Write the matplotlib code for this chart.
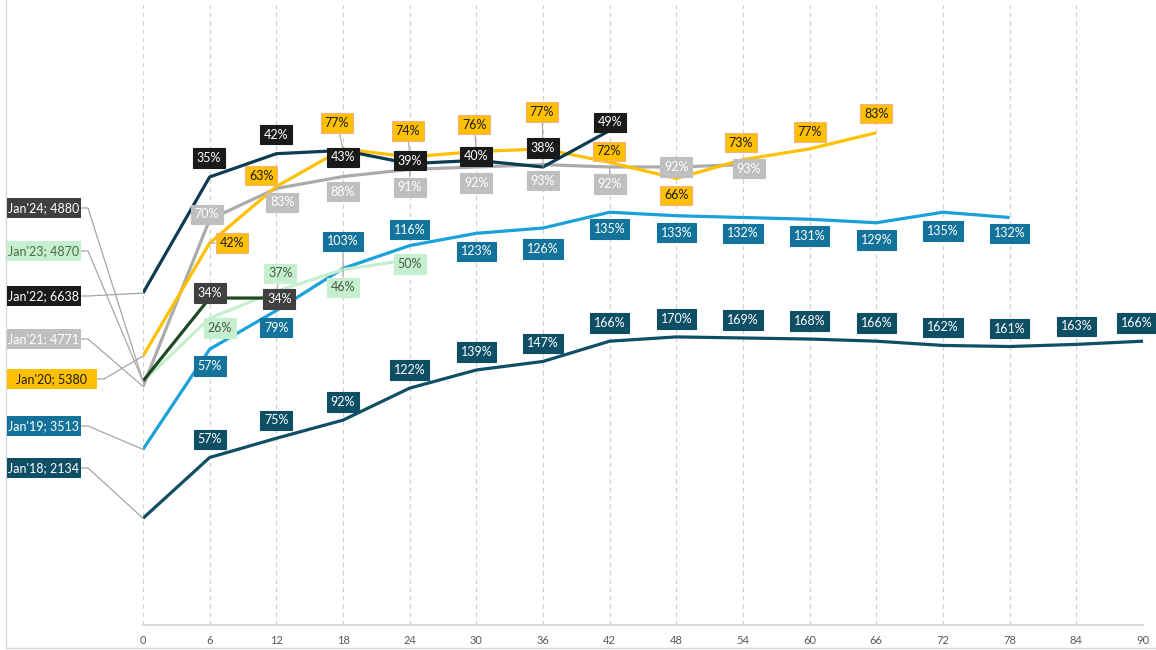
import matplotlib.pyplot as plt
from matplotlib.patches import Rectangle
from matplotlib.lines import Line2D
import numpy as np

plt.rcParams['font.family'] = ['Lato', 'DejaVu Sans']

W, H = 1156, 650

months = [0, 6, 12, 18, 24, 30, 36, 42, 48, 54, 60, 66, 72, 78, 84, 90]

cohorts = ["Jan'18", "Jan'19", "Jan'20", "Jan'21", "Jan'22", "Jan'23", "Jan'24"]
base_counts = [2134, 3513, 5380, 4771, 6638, 4870, 4880]

# cumulative growth (%) vs. the starting count, every 6 months
growth_18 = [57, 75, 92, 122, 139, 147, 166, 170, 169, 168, 166, 162, 161, 163, 166]
growth_19 = [57, 79, 103, 116, 123, 126, 135, 133, 132, 131, 129, 135, 132]
growth_20 = [42, 63, 77, 74, 76, 77, 72, 66, 73, 77, 83]
growth_21 = [70, 83, 88, 91, 92, 93, 92, 92, 93]
growth_22 = [35, 42, 43, 39, 40, 38, 49]
growth_23 = [26, 37, 46, 50]
growth_24 = [34, 34]
growth = [growth_18, growth_19, growth_20, growth_21, growth_22, growth_23, growth_24]

# line colour, label face, label text, label edge, zorder
styles = [
    ('#0E4F66', '#0E4F66', 'white', '#0E4F66', 3),
    ('#1BA1D9', '#13739A', 'white', '#13739A', 4),
    ('#FFC000', '#FFC000', '#1A1A1A', '#F4B183', 6),
    ('#ABABAB', '#BFBFBF', 'white', '#BFBFBF', 5),
    ('#0B3C52', '#1A1A1A', 'white', '#1A1A1A', 7),
    ('#C6EFCE', '#C6EFCE', '#4A5A4C', '#C6EFCE', 4),
    ('#1E4A22', '#404040', 'white', '#404040', 8),
]

# label offsets in pixels (dx, dy, leader line)
offsets = [
    [(0, 18, 0)] * 14 + [(-6, 18, 0)],
    [(0, -17, 0), (0, -17, 0), (0, 27, 1), (0, 16, 0), (0, -18, 0), (0, -21, 0),
     (0, -17, 0), (0, -17, 0), (0, -16, 0), (0, -17, 0), (0, -17, 0), (0, -19, 0), (0, -16, 0)],
    [(22, 0, 1), (-15, 11, 0), (-6, 26, 1), (-2, 26, 1), (-2, 27, 1), (-1, 37, 1),
     (-1, 11, 0), (0, -17, 0), (-2, 17, 0), (0, 17, 0), (0, 19, 0)],
    [(-3, 5, 0), (6, -14, 0), (0, -15, 0), (0, -18, 1), (0, -16, 0), (0, -16, 0),
     (0, -17, 1), (0, 0, 0), (6, -4, 0)],
    [(-1, 19, 0), (0, 19, 0), (0, -7, 0), (0, 3, 0), (0, 4, 0), (0, 19, 1), (0, 8, 0)],
    [(10, -10, 0), (4, 18, 1), (0, -18, 1), (0, -4, 0)],
    [(0, 5, 0), (3, -1, 0)],
]

# left-hand name boxes: centre y (px from top), box width
name_box_y = [468, 426, 379, 339, 296, 251, 208]
name_box_w = [74, 74, 90, 74, 74, 74, 74]
name_text = ['white', 'white', '#1A1A1A', 'white', 'white', '#4A6B4A', 'white']

fig = plt.figure(figsize=(W / 100, H / 100), dpi=100)
ax = fig.add_axes([143 / W, 25 / H, 1000 / W, 620 / H])
ax.set_xlim(0, 90)
ax.set_ylim(0, 12400)

for side in ['left', 'right', 'top']:
    ax.spines[side].set_visible(False)
ax.spines['bottom'].set_color('#D9D9D9')
ax.spines['bottom'].set_linewidth(1.4)
ax.set_yticks([])
ax.set_xticks(months)
ax.set_xticklabels([str(m) for m in months])
ax.tick_params(axis='x', length=0, pad=7, labelsize=8, labelcolor='#595959')
ax.xaxis.grid(True, color='#CFCFCF', linewidth=0.8, linestyle=(0, (4, 3.5)))
ax.set_axisbelow(True)

for i, name in enumerate(cohorts):
    line_c, face, txt_c, edge, z = styles[i]
    base = base_counts[i]
    g = growth[i]
    xs = months[:len(g) + 1]
    ys = [base] + [base * (1 + p / 100) for p in g]
    ax.plot(xs, ys, color=line_c, linewidth=2.3, zorder=z, solid_capstyle='butt')

    for j, p in enumerate(g):
        dx, dy, leader = offsets[i][j]
        arrow = None
        if leader:
            arrow = dict(arrowstyle='-', color='#A6A6A6', lw=0.8, shrinkA=0, shrinkB=0)
        ax.annotate(f"{p}%", xy=(xs[j + 1], ys[j + 1]), xytext=(dx, dy),
                    textcoords='offset pixels', ha='center', va='center',
                    fontsize=9, color=txt_c, zorder=20, arrowprops=arrow,
                    bbox=dict(boxstyle='square,pad=0.3', fc=face, ec=edge, lw=0.8))

# name boxes on the left with leader lines to each starting point
for i, name in enumerate(cohorts):
    face = styles[i][1]
    yc = name_box_y[i]
    bw = name_box_w[i]
    fig.add_artist(Rectangle((7 / W, 1 - (yc + 10) / H), bw / W, 20 / H,
                             transform=fig.transFigure, fc=face, ec='none', zorder=5))
    fig.text((7 + bw / 2) / W, 1 - yc / H, f"{name}; {base_counts[i]}",
             ha='center', va='center', fontsize=9, color=name_text[i], zorder=6)
    sx, sy = ax.transData.transform((0, base_counts[i]))
    right = 7 + bw
    fig.add_artist(Line2D([right / W, (right + 7) / W, sx / W],
                          [1 - yc / H, 1 - yc / H, sy / H],
                          transform=fig.transFigure, color='#A6A6A6', lw=0.9, zorder=4))

# chart area border
fig.add_artist(Line2D([6 / W, 6 / W, 1], [1, 2 / H, 2 / H],
                      transform=fig.transFigure, color='#D9D9D9', lw=1.0))

fig.savefig('out.png', dpi=100)
